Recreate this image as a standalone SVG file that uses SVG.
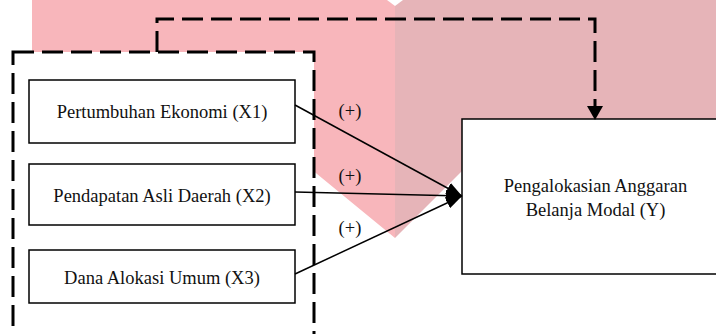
<svg xmlns="http://www.w3.org/2000/svg" width="716" height="334" viewBox="0 0 716 334">
  <style>
    .lbl { font-family: "Liberation Serif", "Times New Roman", serif; font-size: 18.5px; fill: #111; text-anchor: middle; }
    .box { fill: #ffffff; stroke: #000000; stroke-width: 1.5; }
    .group { fill: #ffffff; stroke: #000000; stroke-width: 3; stroke-dasharray: 21 8; }
    .link { fill: none; stroke: #000000; stroke-width: 1.5; marker-end: url(#head); }
    .dashlink { fill: none; stroke: #000000; stroke-width: 3; stroke-dasharray: 21 8; marker-end: url(#headDash); }
  </style>
  <defs>
    <marker id="head" viewBox="0 0 16 12" refX="16" refY="6" markerWidth="16" markerHeight="12" markerUnits="userSpaceOnUse" orient="auto">
      <path d="M0,0 L16,6 L0,12 Z" fill="#000000"/>
    </marker>
    <marker id="headDash" viewBox="0 0 14 16" refX="0" refY="8" markerWidth="14" markerHeight="16" markerUnits="userSpaceOnUse" orient="auto">
      <path d="M0,0 L14,8 L0,16 Z" fill="#000000"/>
    </marker>
  </defs>

  <rect width="716" height="334" fill="#ffffff"/>

  <!-- background emblem in two tones -->
  <g id="emblem">
    <path d="M32,0 H395 V238 L300,160 L32,60 Z" fill="#f8b6bb"/>
    <path d="M395,0 H716 V143 H490 L395,238 Z" fill="#e6b4b8"/>
    <path d="M387,0 H403 L395,6 Z" fill="#ffffff"/>
  </g>

  <!-- dashed grouping frame around the independent variables -->
  <g id="independent-group">
    <rect class="group" x="13" y="52" width="301" height="300"/>
  </g>

  <g id="x1">
    <rect class="box" x="29" y="80" width="266" height="63"/>
    <text class="lbl" x="162" y="118">Pertumbuhan Ekonomi (X1)</text>
  </g>
  <g id="x2">
    <rect class="box" x="29" y="164" width="266" height="61"/>
    <text class="lbl" x="162" y="202">Pendapatan Asli Daerah (X2)</text>
  </g>
  <g id="x3">
    <rect class="box" x="29" y="250" width="266" height="53"/>
    <text class="lbl" x="162" y="284">Dana Alokasi Umum (X3)</text>
  </g>

  <g id="y">
    <rect class="box" x="462" y="119" width="262" height="155"/>
    <text class="lbl" x="595.5" y="192">Pengalokasian Anggaran</text>
    <text class="lbl" x="595.5" y="216">Belanja Modal (Y)</text>
  </g>

  <g id="connectors">
    <path class="dashlink" d="M157,52 V19 H595 V106"/>
    <path class="link" d="M295,105 L462,196"/>
    <path class="link" d="M295,192 L462,196"/>
    <path class="link" d="M295,274 L462,196"/>
    <text class="lbl" x="350" y="117">(+)</text>
    <text class="lbl" x="350" y="182">(+)</text>
    <text class="lbl" x="350" y="234">(+)</text>
  </g>
</svg>
